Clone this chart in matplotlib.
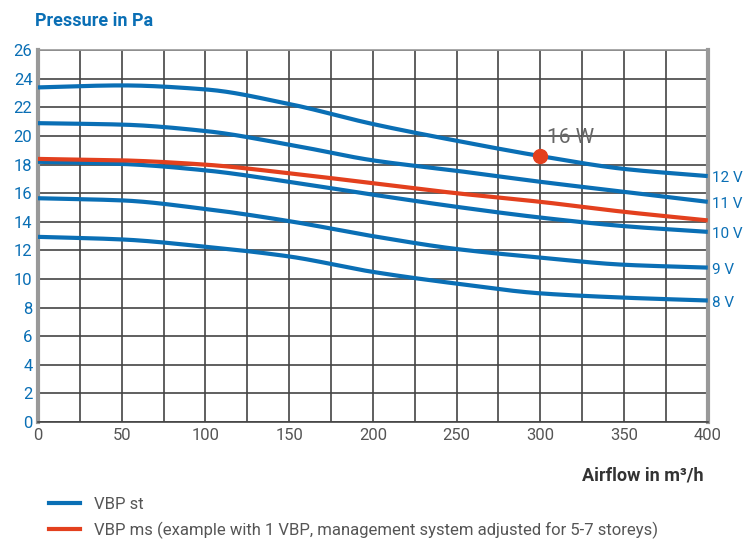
import matplotlib
matplotlib.use("Agg")
import matplotlib.pyplot as plt
from matplotlib.lines import Line2D
import numpy as np

plt.rcParams['font.family'] = ['Roboto', 'DejaVu Sans']

airflow = [0, 50, 100, 150, 200, 250, 300, 350, 400]
v12 = [23.4, 23.54, 23.26, 22.24, 20.84, 19.67, 18.6, 17.7, 17.2]
v11 = [20.9, 20.8, 20.35, 19.4, 18.3, 17.57, 16.8, 16.1, 15.4]
v10 = [18.2, 18.05, 17.6, 16.8, 15.9, 15.05, 14.3, 13.7, 13.3]
v9 = [15.65, 15.5, 14.9, 14.05, 13.0, 12.1, 11.5, 11.0, 10.8]
v8 = [12.95, 12.77, 12.26, 11.58, 10.5, 9.68, 9.0, 8.7, 8.5]
ms = [18.4, 18.3, 18.0, 17.4, 16.7, 16.0, 15.4, 14.7, 14.1]
st_curves = [v12, v11, v10, v9, v8]
voltage_labels = ["12 V", "11 V", "10 V", "9 V", "8 V"]
point_x, point_y, point_label = 300, 18.6, "16 W"

BLUE = "#0a6fb5"
RED = "#e3401e"
GREY = "#555555"

fig = plt.figure(figsize=(7.45, 5.46), dpi=100)
ax = fig.add_axes([0.051, 0.227, 0.899, 0.681])

xs = np.linspace(0, 400, 300)
def smooth(x, y):
    x = np.asarray(x, float); y = np.asarray(y, float)
    h = np.diff(x); d = np.diff(y) / h
    m = np.zeros_like(y)
    for k in range(1, len(y) - 1):
        if d[k-1] * d[k] > 0:
            w1 = 2*h[k] + h[k-1]; w2 = h[k] + 2*h[k-1]
            m[k] = (w1 + w2) / (w1/d[k-1] + w2/d[k])
    m[0] = d[0]; m[-1] = d[-1]
    out = np.empty_like(xs)
    for i, xv in enumerate(xs):
        k = min(np.searchsorted(x, xv, side='right') - 1, len(x) - 2)
        t = (xv - x[k]) / h[k]
        h00 = 2*t**3 - 3*t**2 + 1; h10 = t**3 - 2*t**2 + t
        h01 = -2*t**3 + 3*t**2; h11 = t**3 - t**2
        out[i] = h00*y[k] + h10*h[k]*m[k] + h01*y[k+1] + h11*h[k]*m[k+1]
    return out

for c in st_curves:
    ax.plot(xs, smooth(airflow, c), color=BLUE, lw=3, solid_capstyle='butt', zorder=3)
ax.plot(xs, smooth(airflow, ms), color=RED, lw=3, solid_capstyle='butt', zorder=4)
ax.plot([point_x], [point_y], 'o', color=RED, ms=10, zorder=5)
ax.text(point_x + 4, point_y + 0.6, point_label, color="#666666", fontsize=15, va='bottom', ha='left')

for c, lab in zip(st_curves, voltage_labels):
    ax.text(1.007, c[-1] - 0.15, lab, transform=ax.get_yaxis_transform(), color=BLUE,
            fontsize=11, va='center', ha='left', clip_on=False)

ax.set_xlim(0, 400)
ax.set_ylim(0, 26)
ax.set_xticks(np.arange(0, 401, 25))
ax.set_yticks(np.arange(0, 27, 2))
ax.set_xticklabels([str(v) if v % 50 == 0 else "" for v in range(0, 401, 25)])
ax.grid(True, color="#444444", lw=1.2, zorder=1)
ax.tick_params(axis='both', length=0)
ax.tick_params(axis='y', labelcolor=BLUE, labelsize=12, pad=4)
ax.tick_params(axis='x', labelcolor=GREY, labelsize=12, pad=4)
for s in ['left', 'right']:
    ax.spines[s].set_color("#999999"); ax.spines[s].set_linewidth(3)
ax.spines['top'].set_color("#999999"); ax.spines['top'].set_linewidth(1.2)
ax.spines['bottom'].set_color("#444444"); ax.spines['bottom'].set_linewidth(1.2)

fig.text(0.047, 0.962, "Pressure in Pa", color=BLUE, fontsize=13, fontweight='bold', va='center')
fig.text(0.945, 0.13, "Airflow in m³/h", color="#333333", fontsize=13, fontweight='bold', ha='right', va='center')

handles = [Line2D([0], [0], color=BLUE, lw=3), Line2D([0], [0], color=RED, lw=3)]
labels = ["VBP st", "VBP ms (example with 1 VBP, management system adjusted for 5-7 storeys)"]
fig.legend(handles, labels, loc='upper left', bbox_to_anchor=(0.045, 0.117), frameon=False,
           fontsize=12, labelcolor=GREY, handlelength=1.9, handletextpad=0.8, labelspacing=0.55)

fig.savefig("out.png", dpi=100)
